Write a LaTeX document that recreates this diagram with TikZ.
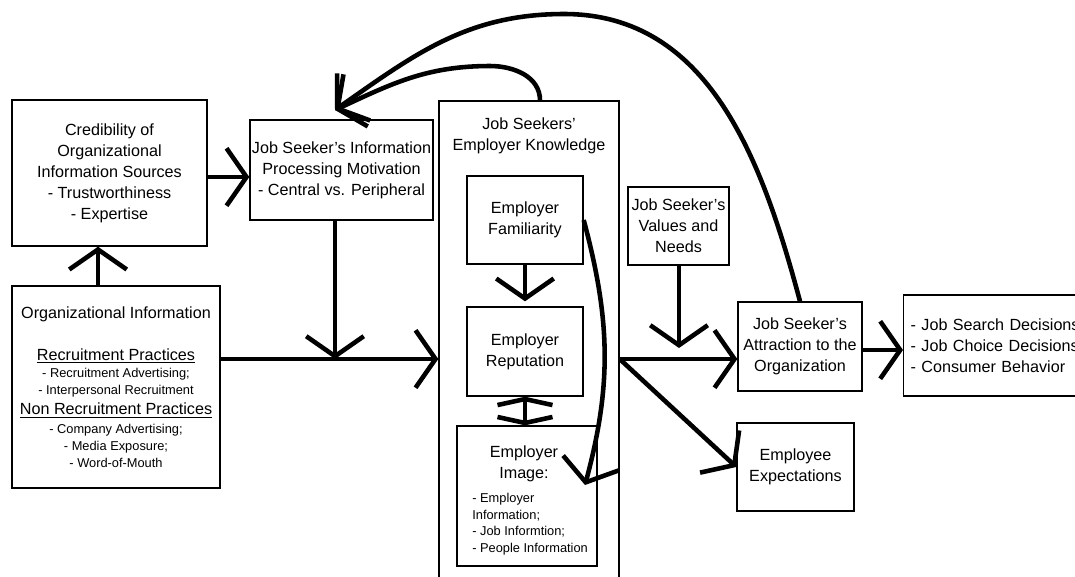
\documentclass[tikz,border=0pt]{standalone}
\usepackage{fontspec}
\setmainfont{Liberation Sans}
\usetikzlibrary{arrows.meta}
\newcommand{\smalltxt}{\fontsize{7.3}{9.4}\selectfont}

\begin{document}
\begin{tikzpicture}[x=0.02cm,y=-0.02cm,
  box/.style={draw,line width=0.8pt,inner sep=0pt,align=center,font=\fontsize{9.2}{11.9}\selectfont},
  txt/.style={inner sep=0pt,align=center,font=\fontsize{9.2}{11.9}\selectfont},
  flow/.style={line width=2.6pt,-{Straight Barb[length=4mm,width=11.5mm]}},
  swap/.style={line width=2.6pt,{Straight Barb[length=1.2mm,width=11mm]}-{Straight Barb[length=1.2mm,width=11mm]}}]
  \useasboundingbox (0,0) rectangle (1075,576);
  % left column
  \node[box,minimum width=3.9cm,minimum height=2.92cm] (cred) at (109.5,173)
    {Credibility of\\Organizational\\Information Sources\\- Trustworthiness\\- Expertise};
  \node[box,minimum width=4.16cm,minimum height=4.04cm] (org) at (116,387)
    {Organizational Information\\[11.9pt]
     \underline{Recruitment Practices}\\[-1.7pt]
     {\smalltxt - Recruitment Advertising;}\\[-2.3pt]
     {\smalltxt - Interpersonal Recruitment}\\[-0.6pt]
     \underline{Non Recruitment Practices}\\[-1.1pt]
     {\smalltxt - Company Advertising;}\\[-2.3pt]
     {\smalltxt - Media Exposure;}\\[-2.3pt]
     {\smalltxt - Word-of-Mouth}};
  \node[box,minimum width=3.66cm,minimum height=2cm] (info) at (341.5,170)
    {Job Seeker’s Information\\Processing Motivation\\- Central vs. Peripheral};
  % employer knowledge
  \node[box,minimum width=3.6cm,minimum height=9.54cm] (know) at (529,339.5) {};
  \node[txt] (knowhead) at (529,135.5) {Job Seekers’\\Employer Knowledge};
  \node[box,minimum width=2.32cm,minimum height=1.76cm] (fam) at (525,220) {Employer\\Familiarity};
  \node[box,minimum width=2.32cm,minimum height=1.78cm] (rep) at (525,351.5) {Employer\\Reputation};
  \node[box,minimum width=2.8cm,minimum height=2.8cm] (img) at (527,496) {};
  \node[txt] (imghead) at (524,464) {Employer\\Image:};
  \node[txt,anchor=west,align=left,font=\smalltxt] (imglist) at (472,524)
    {- Employer\\Information;\\- Job Informtion;\\- People Information};
  % right side
  \node[box,minimum width=2.02cm,minimum height=1.56cm] (vals) at (678.5,226) {Job Seeker’s\\Values and\\Needs};
  \node[box,minimum width=2.48cm,minimum height=1.78cm] (attr) at (800,346.5) {Job Seeker’s\\Attraction to the\\Organization};
  \node[box,minimum width=2.34cm,minimum height=1.76cm] (expt) at (795.5,467) {Employee\\Expectations};
  \node[box,anchor=west,align=left,inner xsep=0.14cm,text width=3.72cm,minimum height=2.02cm] (out) at (903,345.5)
    {- Job Search Decisions\\- Job Choice Decisions\\- Consumer Behavior};
  \coordinate (join) at (335,359);
  \coordinate (valsend) at (679,348);
  \coordinate (famend) at (585,485);
  \coordinate (infotip) at (335,110);
  % arrows
  \draw[flow] (org.north -| 98,0) -- (cred.south -| 98,0);
  \draw[flow] (cred.east |- 0,177) -- (info.west |- 0,177);
  \draw[flow] (info.south -| join) -- (join);
  \draw[flow] (org.east |- 0,359) -- (know.west |- 0,359);
  \draw[flow,shorten >=0.1cm] (fam.south) -- (rep.north);
  \draw[swap] (rep.south) -- (img.north -| rep.south);
  \draw[flow] (fam.east) to[out=-75,in=75] (famend);
  \draw[flow] (vals.south -| valsend) -- (valsend);
  \draw[flow] (know.east |- 0,359) -- (attr.west |- 0,359);
  \draw[flow] (know.east |- 0,359) -- (expt.west);
  \draw[flow] (attr.east |- 0,350) -- (out.west |- 0,350);
  \draw[flow] (know.north -| 540,0) to[out=90,in=0] (490,66) to[out=180,in=25] (infotip);
  \draw[flow] (attr.north) to[out=105,in=0] (564,14) to[out=180,in=35] (infotip);
\end{tikzpicture}
\end{document}
